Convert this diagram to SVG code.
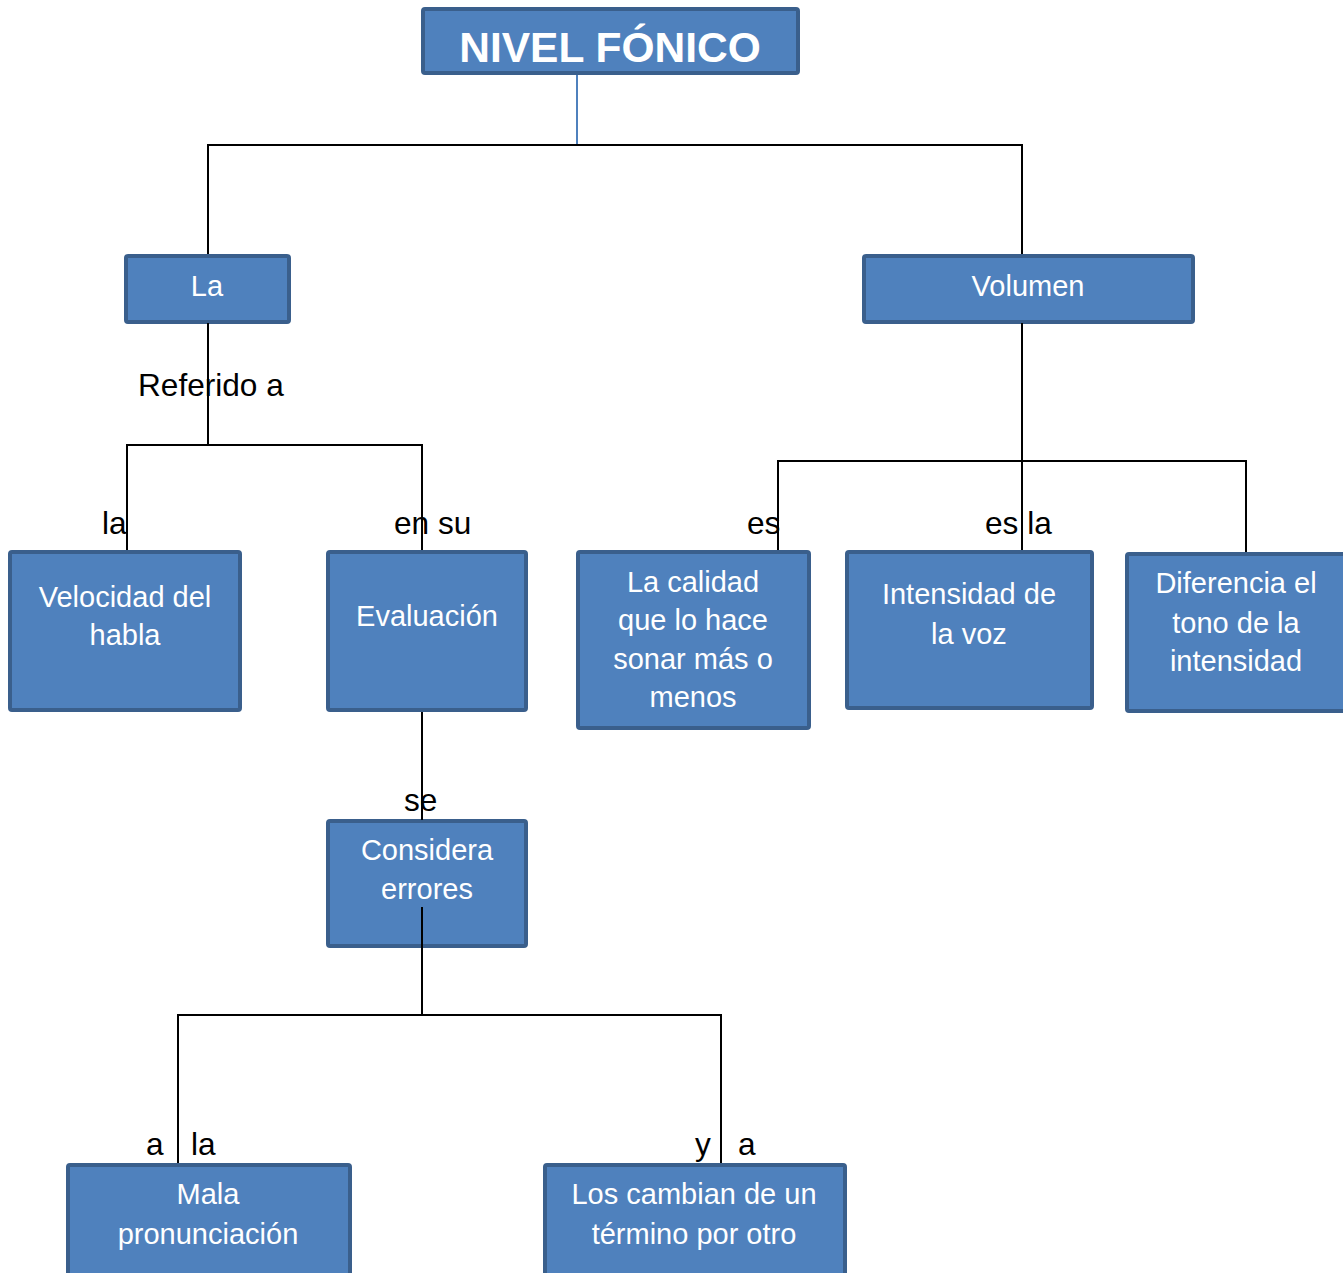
<svg xmlns="http://www.w3.org/2000/svg" width="1343" height="1273" viewBox="0 0 1343 1273">
<style>
.box{fill:#4f81bd;stroke:#3a5f8c;stroke-width:4}
.bt{font-family:"Liberation Sans",Arial,sans-serif;font-size:29px;fill:#ffffff;text-anchor:middle}
.lbl{font-family:"Liberation Sans",Arial,sans-serif;font-size:31.6px;fill:#000000}
.ln{stroke:#000000;stroke-width:2;fill:none}
</style>
<rect width="1343" height="1273" fill="#ffffff"/>
<g id="n-nivel">
<rect class="box" x="423" y="9" width="375" height="64" rx="2"/>
<text x="610" y="62" font-family="Liberation Sans,Arial,sans-serif" font-size="42.5" font-weight="bold" fill="#ffffff" text-anchor="middle">NIVEL FÓNICO</text>
</g>
<g id="n-la">
<rect class="box" x="126" y="256" width="163" height="66" rx="2"/>
<text class="bt" x="207" y="296">La</text>
</g>
<g id="n-volumen">
<rect class="box" x="864" y="256" width="329" height="66" rx="2"/>
<text class="bt" x="1028" y="296">Volumen</text>
</g>
<g id="n-velocidad">
<rect class="box" x="10" y="552" width="230" height="158" rx="2"/>
<text class="bt" x="125" y="607">Velocidad del</text>
<text class="bt" x="125" y="645">habla</text>
</g>
<g id="n-evaluacion">
<rect class="box" x="328" y="552" width="198" height="158" rx="2"/>
<text class="bt" x="427" y="626">Evaluación</text>
</g>
<g id="n-calidad">
<rect class="box" x="578" y="552" width="231" height="176" rx="2"/>
<text class="bt" x="693" y="592">La calidad</text>
<text class="bt" x="693" y="630">que lo hace</text>
<text class="bt" x="693" y="669">sonar más o</text>
<text class="bt" x="693" y="707">menos</text>
</g>
<g id="n-intensidad">
<rect class="box" x="847" y="552" width="245" height="156" rx="2"/>
<text class="bt" x="969" y="604">Intensidad de</text>
<text class="bt" x="969" y="644">la voz</text>
</g>
<g id="n-diferencia">
<rect class="box" x="1127" y="554" width="226" height="157" rx="2"/>
<text class="bt" x="1236" y="593">Diferencia el</text>
<text class="bt" x="1236" y="633">tono de la</text>
<text class="bt" x="1236" y="671">intensidad</text>
</g>
<g id="n-considera">
<rect class="box" x="328" y="821" width="198" height="125" rx="2"/>
<text class="bt" x="427" y="860">Considera</text>
<text class="bt" x="427" y="899">errores</text>
</g>
<g id="n-mala">
<rect class="box" x="68" y="1165" width="282" height="120" rx="2"/>
<text class="bt" x="208" y="1204">Mala</text>
<text class="bt" x="208" y="1244">pronunciación</text>
</g>
<g id="n-cambian">
<rect class="box" x="545" y="1165" width="300" height="120" rx="2"/>
<text class="bt" x="694" y="1204">Los cambian de un</text>
<text class="bt" x="694" y="1244">término por otro</text>
</g>
<g id="connectors">
<line x1="577" y1="75" x2="577" y2="145" stroke="#4f81bd" stroke-width="2"/>
<polyline class="ln" points="208,254 208,145 1022,145 1022,254"/>
<line class="ln" x1="208" y1="323" x2="208" y2="445"/>
<polyline class="ln" points="127,550 127,445 422,445 422,550"/>
<line class="ln" x1="1022" y1="323" x2="1022" y2="550"/>
<polyline class="ln" points="778,550 778,461 1246,461 1246,552"/>
<line class="ln" x1="422" y1="712" x2="422" y2="820"/>
<line class="ln" x1="422" y1="907" x2="422" y2="1015"/>
<polyline class="ln" points="178,1163 178,1015 721,1015 721,1163"/>
</g>
<g id="labels">
<text class="lbl" x="138" y="396">Referido a</text>
<text class="lbl" x="102" y="534">la</text>
<text class="lbl" x="394" y="534">en su</text>
<text class="lbl" x="747" y="534">es</text>
<text class="lbl" x="985" y="534">es la</text>
<text class="lbl" x="404" y="811">se</text>
<text class="lbl" x="146" y="1155">a</text>
<text class="lbl" x="191" y="1155">la</text>
<text class="lbl" x="695" y="1155">y</text>
<text class="lbl" x="738" y="1155">a</text>
</g>
</svg>
